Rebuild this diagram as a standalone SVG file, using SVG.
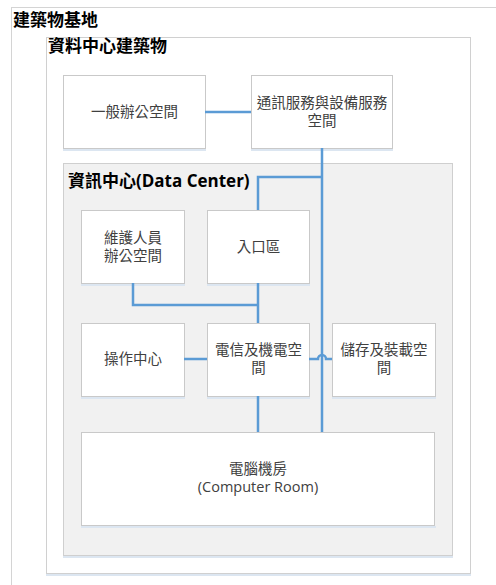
<svg xmlns="http://www.w3.org/2000/svg" width="496" height="585" viewBox="0 0 496 585">
<style>
.box{fill:#fff;stroke:#c9c9c9;stroke-width:1}
.shadow{fill:#dce6f1}
.t{font-family:"Open Sans","Noto Sans CJK TC",sans-serif;font-size:14.5px;fill:#404040;text-anchor:middle}
.h{font-family:"Open Sans","Noto Sans CJK TC",sans-serif;font-size:17px;font-weight:bold;fill:#000}
.c{fill:none;stroke:#5b9bd5;stroke-width:2.5}
</style>
<rect width="496" height="585" fill="#fff"/>
<g id="site">
<rect x="11.5" y="7.5" width="500" height="600" fill="#fff" stroke="#d4d4d4"/>
<text class="h" x="13" y="26">建築物基地</text>
</g>
<g id="dc-building">
<rect x="46" y="574" width="425" height="2" class="shadow"/>
<rect x="46.5" y="37.5" width="424" height="536" fill="#fff" stroke="#d0d0d0"/>
<text class="h" x="48" y="52">資料中心建築物</text>
</g>
<g id="data-center">
<rect x="63" y="556" width="390" height="2" class="shadow"/>
<rect x="63.5" y="163.5" width="389" height="392" fill="#f1f1f1" stroke="#cfcfcf"/>
<text class="h" x="68" y="187">資訊中心(Data Center)</text>
</g>
<g id="office">
<rect x="63" y="149" width="143" height="2" class="shadow"/>
<rect x="63.5" y="75.5" width="142" height="73" class="box"/>
<text class="t" x="134.5" y="117">一般辦公空間</text>
</g>
<g id="telecom-service">
<rect x="251" y="149" width="142" height="2" class="shadow"/>
<rect x="251.5" y="75.5" width="141" height="73" class="box"/>
<text class="t" x="322" y="108">通訊服務與設備服務</text>
<text class="t" x="322" y="126">空間</text>
</g>
<g id="staff-office">
<rect x="81" y="284" width="104" height="2" class="shadow"/>
<rect x="81.5" y="210.5" width="103" height="73" class="box"/>
<text class="t" x="133" y="243">維護人員</text>
<text class="t" x="133" y="261">辦公空間</text>
</g>
<g id="entrance">
<rect x="207" y="284" width="103" height="2" class="shadow"/>
<rect x="207.5" y="210.5" width="102" height="73" class="box"/>
<text class="t" x="258.5" y="252">入口區</text>
</g>
<g id="ops-center">
<rect x="81" y="397" width="104" height="2" class="shadow"/>
<rect x="81.5" y="323.5" width="103" height="73" class="box"/>
<text class="t" x="133" y="364">操作中心</text>
</g>
<g id="telecom-room">
<rect x="207" y="397" width="103" height="2" class="shadow"/>
<rect x="207.5" y="323.5" width="102" height="73" class="box"/>
<text class="t" x="258.5" y="355">電信及機電空</text>
<text class="t" x="258.5" y="373">間</text>
</g>
<g id="storage">
<rect x="332" y="397" width="104" height="2" class="shadow"/>
<rect x="332.5" y="323.5" width="103" height="73" class="box"/>
<text class="t" x="384" y="355">儲存及裝載空</text>
<text class="t" x="384" y="373">間</text>
</g>
<g id="computer-room">
<rect x="81" y="526" width="355" height="2" class="shadow"/>
<rect x="81.5" y="432.5" width="353" height="93" class="box"/>
<text class="t" x="258" y="474">電腦機房</text>
<text class="t" x="258" y="492">(Computer Room)</text>
</g>
<g id="connectors">
<path class="c" d="M205,112 H251"/>
<path class="c" d="M322,148 V432"/>
<path class="c" d="M322,177 H258 V210"/>
<path class="c" d="M133,283 V305 H258"/>
<path class="c" d="M258,283 V323"/>
<path class="c" d="M184,359 H207"/>
<path class="c" d="M309,359 H318 A4,4 0 0 1 326,359 H332"/>
<path class="c" d="M258,396 V432"/>
</g>
</svg>
